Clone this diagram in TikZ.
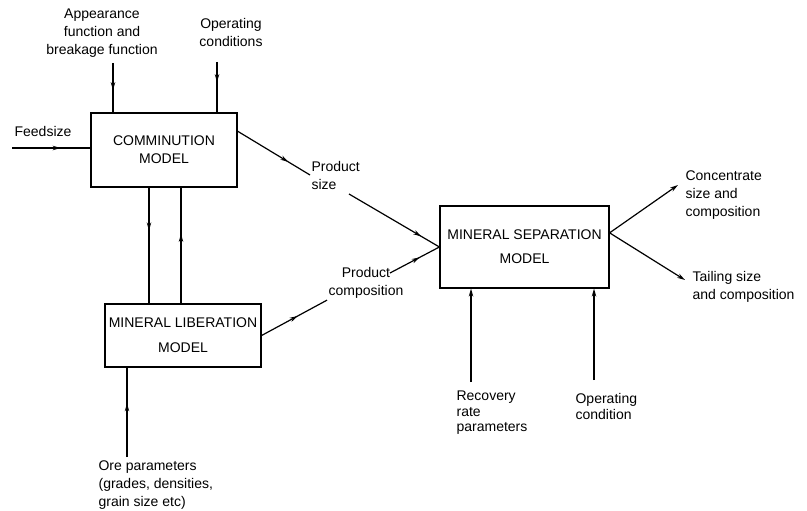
\documentclass[tikz,border=0pt]{standalone}
\usepackage{fontspec}
\setmainfont{Liberation Sans}
\usepackage{tikz}
\usetikzlibrary{positioning}
\usetikzlibrary{arrows.meta}
\usetikzlibrary{calc}
\usetikzlibrary{decorations.markings}

\begin{document}
\begin{tikzpicture}[
            x = 1pt, y = -1pt, % pixel like units
            > = {Stealth[length=8pt,width=4.5pt]}, % arrow head style
            line width = 1.2pt % line style
        ]

        \tikzstyle{model}=[
            draw,
            line width = 1.2pt,
            align = center,
            font = \fontsize{14}{18}\selectfont
        ]
        \tikzstyle{lbl}=[
            inner sep = 1pt,
            font = \fontsize{14}{18}\selectfont
        ]
        \tikzstyle{midarrow}=[
            postaction = {decorate, decoration = {markings,
              mark = at position #1 with {\arrow{>}}}}
        ]

        \useasboundingbox (0,0) rectangle (807,511);

% models
        \node[model, minimum width=146pt, minimum height=74pt] (comm) at (164,150) {COMMINUTION\\MODEL};
        \node[model, minimum width=156pt, minimum height=63pt, font=\fontsize{14}{25}\selectfont] (lib) at (183,335.5) {MINERAL LIBERATION\\MODEL};
        \node[model, minimum width=169pt, minimum height=82pt, font=\fontsize{14}{24}\selectfont] (sep) at (524.5,247) {MINERAL SEPARATION\\MODEL};

        % labels
        \node[lbl, align=center] (appear) at (102,33) {Appearance\\function and\\breakage function};
        \node[lbl, align=center] (opcond) at (231,32) {Operating\\conditions};
        \node[lbl] (feed) at (43,131) {Feedsize};
        \node[lbl, align=left, anchor=west] (psize) at (310,175) {Product\\size};
        \node[lbl, align=center] (pcomp) at (366,283) {Product\\composition};
        \node[lbl, align=left, anchor=west] (conc) at (684,195) {Concentrate\\size and\\composition};
        \node[lbl, align=left, anchor=west] (tail) at (691,287) {Tailing size\\and composition};
        \node[lbl, align=left, anchor=west] (ore) at (97,485) {Ore parameters\\(grades, densities,\\ grain size etc)};
        \node[lbl, align=left, anchor=west, font=\fontsize{14}{15.5}\selectfont] (recov) at (455,413) {Recovery\\rate\\parameters};
        \node[lbl, align=left, anchor=west, font=\fontsize{14}{16}\selectfont] (opcond2) at (574,406) {Operating\\condition};

        % free ends
        \coordinate (appin) at (113,63);
        \coordinate (opin) at (217,62);
        \coordinate (feedin) at (12,148);
        \coordinate (orein) at (127,457);
        \coordinate (recin) at (471,382);
        \coordinate (opcin) at (594,380);
        \coordinate (ps1) at (349,194);
        \coordinate (pc1) at (390,273);
        \coordinate (concout) at (678,185);
        \coordinate (tailout) at (685,280);

        % inputs to comminution
        \draw[midarrow=0.55] (appin) -- (appin |- comm.north);
        \draw[midarrow=0.4] (opin) -- (opin |- comm.north);
        \draw[midarrow=0.62] (feedin) -- (feedin -| comm.west);

        % comminution <-> liberation
        \draw[midarrow=0.37] ([xshift=-15pt]comm.south) -- ([xshift=-15pt]comm.south |- lib.north);
        \draw[midarrow=0.6] ([xshift=17pt]comm.south |- lib.north) -- ([xshift=17pt]comm.south);
        \draw[midarrow=0.6] (orein) -- (orein |- lib.south);

        % products
        \draw[midarrow=0.7] ($(comm.north east)!0.25!(comm.south east)$) -- (psize.west);
        \draw[midarrow=0.8] (ps1) -- (sep.west);
        \draw[midarrow=0.55] (lib.east) -- (pcomp.south west);
        \draw[midarrow=0.6] (pc1) -- (sep.west);

        % separation
        \draw[->] ($(sep.north east)!0.33!(sep.south east)$) -- (concout);
        \draw[->] ($(sep.north east)!0.33!(sep.south east)$) -- (tailout);
        \draw[->] (recin) -- (recin |- sep.south);
        \draw[->] (opcin) -- (opcin |- sep.south);

  \end{tikzpicture}
\end{document}
